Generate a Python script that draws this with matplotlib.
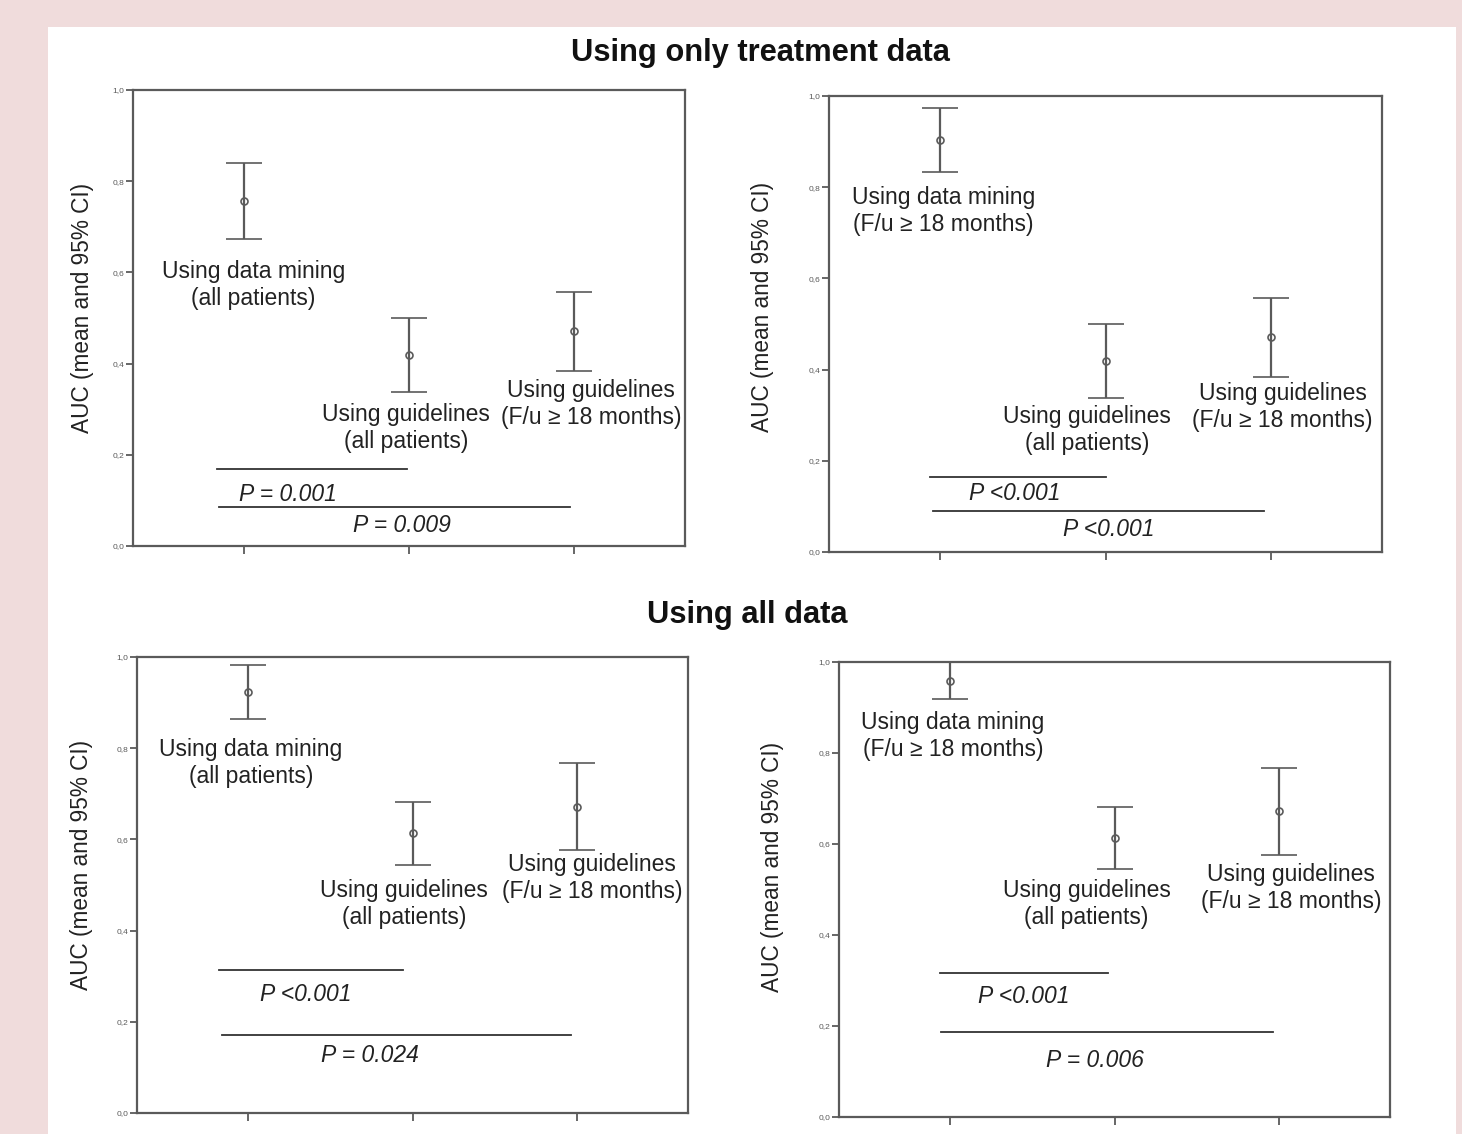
import matplotlib
matplotlib.use("Agg")
import matplotlib.pyplot as plt
from matplotlib.patches import Rectangle

# ---- data (AUC mean and 95% CI) ----
labels_dm_all = "Using data mining\n(all patients)"
labels_dm_fu = "Using data mining\n(F/u \u2265 18 months)"
label_gl_all = "Using guidelines\n(all patients)"
label_gl_fu = "Using guidelines\n(F/u \u2265 18 months)"

# treatment data only, data mining on all patients
tl_mean = [0.757, 0.419, 0.471]
tl_low = [0.673, 0.338, 0.384]
tl_high = [0.840, 0.500, 0.557]
tl_p = ["P = 0.001", "P = 0.009"]

# treatment data only, data mining on F/u >= 18 months
tr_mean = [0.904, 0.419, 0.471]
tr_low = [0.833, 0.338, 0.384]
tr_high = [0.974, 0.500, 0.557]
tr_p = ["P <0.001", "P <0.001"]

# all data, data mining on all patients
bl_mean = [0.923, 0.614, 0.671]
bl_low = [0.864, 0.544, 0.577]
bl_high = [0.982, 0.682, 0.768]
bl_p = ["P <0.001", "P = 0.024"]

# all data, data mining on F/u >= 18 months
br_mean = [0.958, 0.613, 0.672]
br_low = [0.919, 0.545, 0.576]
br_high = [1.000, 0.681, 0.767]
br_p = ["P <0.001", "P = 0.006"]

yticks = [0.0, 0.2, 0.4, 0.6, 0.8, 1.0]
ytick_labels = ["0,0", "0,2", "0,4", "0,6", "0,8", "1,0"]

plt.rcParams["font.family"] = ["Liberation Sans", "DejaVu Sans"]

W, H = 1462, 1134
fig = plt.figure(figsize=(W / 100, H / 100), dpi=100)
fig.patch.set_facecolor("#f0dcdc")
fig.patches.append(Rectangle((48 / W, 0), (1456 - 48) / W, 1 - 27 / H,
                             transform=fig.transFigure, facecolor="white",
                             edgecolor="none", zorder=-5))

AX_COL = "#5a5a5a"
TXT_COL = "#222222"


def px_rect(left, bottom, width, height):
    return [left / W, 1 - bottom / H, width / W, height / H]


def draw_panel(rect, first_label, mean, low, high, pvals, layout):
    ax = fig.add_axes(px_rect(*rect))
    ax.set_facecolor("none")
    x = [1, 2, 3]
    err = [[m - l for m, l in zip(mean, low)], [h - m for m, h in zip(mean, high)]]
    ax.errorbar(x, mean, yerr=err, fmt="o", color=AX_COL, mfc="none",
                mec=AX_COL, ms=5, mew=1.2, elinewidth=1.6, capsize=13,
                capthick=1.6, clip_on=False, zorder=3)

    ax.set_xlim(0.33, 3.67)
    ax.set_ylim(0, 1)
    ax.set_xticks(x)
    ax.set_xticklabels([])
    ax.set_yticks(yticks)
    ax.set_yticklabels(ytick_labels)
    ax.tick_params(axis="y", direction="out", length=5, width=1.3,
                   colors=AX_COL, labelsize=6, pad=1)
    ax.tick_params(axis="x", direction="out", length=6, width=1.3,
                   colors=AX_COL)
    for s in ax.spines.values():
        s.set_color(AX_COL)
        s.set_linewidth(1.6)
    ax.set_ylabel("AUC (mean and 95% CI)", fontsize=16.3, color=TXT_COL)
    ax.yaxis.set_label_coords(*layout["ylab"])
    ax.yaxis.label.set_verticalalignment("center")

    names = [first_label, label_gl_all, label_gl_fu]
    for name, (tx, ty) in zip(names, layout["labels"]):
        ax.text(tx, ty, name, ha="center", va="center", fontsize=16.5,
                color=TXT_COL, linespacing=1.2)

    (l1x0, l1x1, l1y), (l2x0, l2x1, l2y) = layout["lines"]
    ax.plot([l1x0, l1x1], [l1y, l1y], color="#333333", lw=1.3)
    ax.plot([l2x0, l2x1], [l2y, l2y], color="#333333", lw=1.3)
    for ptxt, (tx, ty) in zip(pvals, layout["ptext"]):
        ax.text(tx, ty, ptxt, ha="center", va="center", fontsize=16.5,
                style="italic", color=TXT_COL)
    return ax


draw_panel((133, 546, 552, 456), labels_dm_all, tl_mean, tl_low, tl_high, tl_p,
           {"ylab": (-0.092, 0.522),
            "labels": [(1.06, 0.572), (1.98, 0.259), (3.10, 0.311)],
            "lines": [(0.836, 1.988, 0.169), (0.848, 2.976, 0.086)],
            "ptext": [(1.27, 0.114), (1.96, 0.044)]})

draw_panel((829, 552, 553, 456), labels_dm_fu, tr_mean, tr_low, tr_high, tr_p,
           {"ylab": (-0.121, 0.537),
            "labels": [(1.02, 0.748), (1.89, 0.268), (3.07, 0.318)],
            "lines": [(0.939, 2.0, 0.164), (0.958, 2.958, 0.090)],
            "ptext": [(1.45, 0.129), (2.02, 0.050)]})

draw_panel((137, 1113, 551, 456), labels_dm_all, bl_mean, bl_low, bl_high, bl_p,
           {"ylab": (-0.100, 0.544),
            "labels": [(1.02, 0.768), (1.95, 0.458), (3.09, 0.515)],
            "lines": [(0.825, 1.94, 0.314), (0.843, 2.96, 0.171)],
            "ptext": [(1.35, 0.259), (1.74, 0.125)]})

draw_panel((839, 1117, 551, 455), labels_dm_fu, br_mean, br_low, br_high, br_p,
           {"ylab": (-0.120, 0.549),
            "labels": [(1.02, 0.837), (1.83, 0.468), (3.07, 0.503)],
            "lines": [(0.945, 1.96, 0.316), (0.95, 2.96, 0.187)],
            "ptext": [(1.45, 0.264), (1.88, 0.125)]})

fig.text(760 / W, 1 - 53 / H, "Using only treatment data", ha="center",
         va="center", fontsize=22.2, fontweight="bold", color="#111111")
fig.text(747 / W, 1 - 615 / H, "Using all data", ha="center",
         va="center", fontsize=22.2, fontweight="bold", color="#111111")

fig.savefig("out.png", dpi=100, facecolor=fig.get_facecolor())
